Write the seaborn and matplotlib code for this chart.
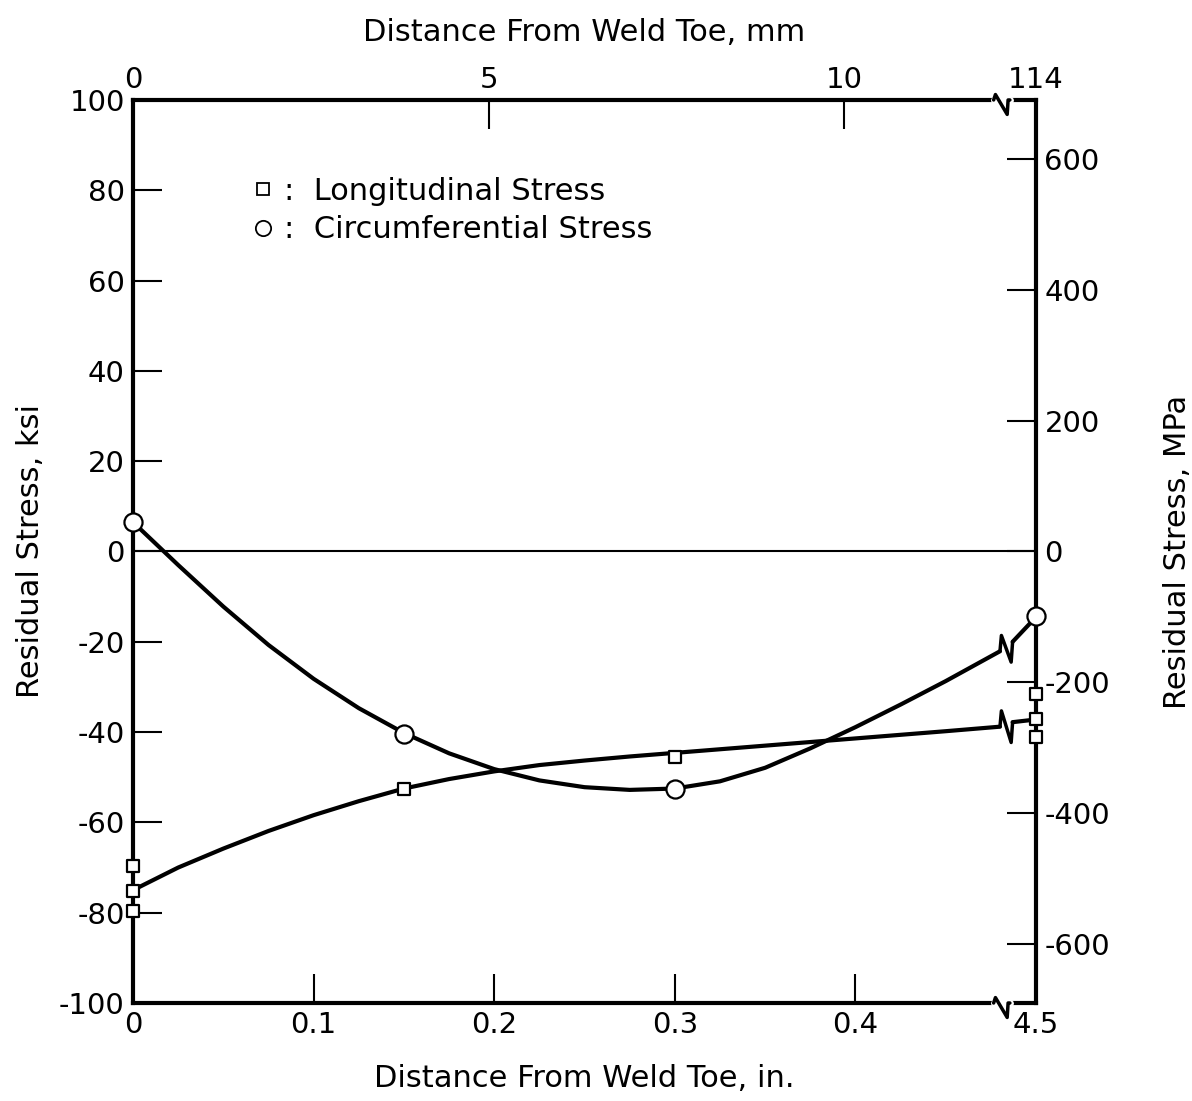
import numpy as np
import pandas as pd
import matplotlib
matplotlib.use('Agg')
import matplotlib.pyplot as plt
from matplotlib.lines import Line2D
import seaborn as sns

sns.set_style('ticks')
plt.rcParams['font.family'] = ['DejaVu Sans']
plt.rcParams['axes.unicode_minus'] = False
plt.rcParams['text.color'] = 'black'
plt.rcParams['axes.labelcolor'] = 'black'
plt.rcParams['xtick.color'] = 'black'
plt.rcParams['ytick.color'] = 'black'

# measured points (x in inches, stress in ksi)
long_x = [0, 0, 0, 0.15, 0.3, 0.5, 0.5, 0.5]
long_y = [-69.7, -75.2, -79.6, -52.5, -45.5, -31.5, -37, -41]
circ_x = [0, 0.15, 0.3, 0.5]
circ_y = [6.5, -40.5, -52.6, -14.2]

# faired curves, split at the axis break
long_curve_x = [0, 0.025, 0.05, 0.075, 0.1, 0.125, 0.15, 0.175, 0.2, 0.225, 0.25,
                0.275, 0.3, 0.325, 0.35, 0.375, 0.4, 0.425, 0.45, 0.48]
long_curve_y = [-75, -70, -65.8, -61.9, -58.4, -55.3, -52.5, -50.4, -48.7, -47.3, -46.3,
                -45.4, -44.6, -43.8, -43, -42.2, -41.4, -40.6, -39.8, -38.8]
long_tail_x = [0.487, 0.5]
long_tail_y = [-37.8, -37.2]
circ_curve_x = [0, 0.025, 0.05, 0.075, 0.1, 0.125, 0.15, 0.175, 0.2, 0.225,
                0.25, 0.275, 0.3, 0.325, 0.35, 0.375, 0.4, 0.425, 0.45, 0.48]
circ_curve_y = [6.5, -3, -12.2, -20.7, -28.2, -34.7, -40.2, -44.7, -48.2, -50.7,
                -52.2, -52.8, -52.5, -50.9, -47.9, -43.6, -38.9, -33.9, -28.7, -22.1]
circ_tail_x = [0.487, 0.5]
circ_tail_y = [-20, -14.5]

x_ticks = [0, 0.1, 0.2, 0.3, 0.4, 0.5]
x_labels = ['0', '0.1', '0.2', '0.3', '0.4', '4.5']
mm_ticks = [0, 5, 10, 12.7]
mm_labels = ['0', '5', '10', '114']
mpa_ticks = [-600, -400, -200, 0, 200, 400, 600]

pts = pd.DataFrame({'x': long_x + circ_x, 'y': long_y + circ_y,
                    'kind': ['Longitudinal'] * len(long_x) + ['Circumferential'] * len(circ_x)})

fig = plt.figure(figsize=(11.92, 11.01), dpi=100)
ax = fig.add_axes([0.1116, 0.089, 0.7576, 0.8202])

ax.axhline(0, color='black', lw=1.5, zorder=1)
for cx, cy, tx, ty in [(long_curve_x, long_curve_y, long_tail_x, long_tail_y),
                       (circ_curve_x, circ_curve_y, circ_tail_x, circ_tail_y)]:
    sns.lineplot(x=cx, y=cy, ax=ax, color='black', lw=3, sort=False, zorder=2)
    sns.lineplot(x=tx, y=ty, ax=ax, color='black', lw=3, sort=False, zorder=2)
    # zigzag break mark
    ax.plot([cx[-1], cx[-1] + 0.0008, tx[0] - 0.0008, tx[0]],
            [cy[-1], cy[-1] + 3.5, ty[0] - 4.5, ty[0]], color='black', lw=2.5, zorder=2)

sns.scatterplot(data=pts[pts.kind == 'Longitudinal'], x='x', y='y', ax=ax, marker='s', s=80,
                facecolor='white', edgecolor='black', linewidth=1.6, zorder=4, clip_on=False)
sns.scatterplot(data=pts[pts.kind == 'Circumferential'], x='x', y='y', ax=ax, marker='o', s=170,
                facecolor='white', edgecolor='black', linewidth=1.6, zorder=4, clip_on=False)

ax.set_xlim(0, 0.5)
ax.set_ylim(-100, 100)
ax.set_xticks(x_ticks)
ax.set_xticklabels(x_labels)
ax.set_yticks(np.arange(-100, 101, 20))
ax.tick_params(direction='in', length=21, width=1.5, labelsize=21, pad=6)
for s in ax.spines.values():
    s.set_linewidth(3)
    s.set_color('black')
ax.set_xlabel('Distance From Weld Toe, in.', fontsize=22, labelpad=18)
ax.set_ylabel('Residual Stress, ksi', fontsize=22, labelpad=10)

top = ax.secondary_xaxis('top', functions=(lambda v: v * 25.4, lambda v: v / 25.4))
top.set_xticks(mm_ticks)
top.set_xticklabels(mm_labels)
top.tick_params(direction='in', length=21, width=1.5, labelsize=21, pad=4)
top.spines['top'].set_visible(False)
top.set_xlabel('Distance From Weld Toe, mm', fontsize=22, labelpad=18)

right = ax.secondary_yaxis('right', functions=(lambda v: v * 6.895, lambda v: v / 6.895))
right.set_yticks(mpa_ticks)
right.tick_params(direction='in', length=21, width=1.5, labelsize=21, pad=6)
right.spines['right'].set_visible(False)
right.set_ylabel('Residual Stress, MPa', fontsize=22, labelpad=38)

# breaks on top and bottom spines
for yb in [0, 1]:
    ax.plot([0.953, 0.971], [yb, yb], color='white', lw=5, transform=ax.transAxes,
            clip_on=False, zorder=5)
    ax.plot([0.953, 0.955, 0.968, 0.969, 0.971],
            [yb, yb + 0.006, yb - 0.016, yb, yb], color='black', lw=2.5,
            transform=ax.transAxes, clip_on=False, zorder=6)

handles = [Line2D([], [], marker='s', ls='', mfc='white', mec='black', mew=1.3, ms=8),
           Line2D([], [], marker='o', ls='', mfc='white', mec='black', mew=1.3, ms=11)]
ax.legend(handles, [':  Longitudinal Stress', ':  Circumferential Stress'], loc='upper left',
          bbox_to_anchor=(0.10, 0.945), frameon=False, fontsize=22, handlelength=0.8,
          handletextpad=0.3, labelspacing=0.3)

plt.savefig('out.png', dpi=100)
